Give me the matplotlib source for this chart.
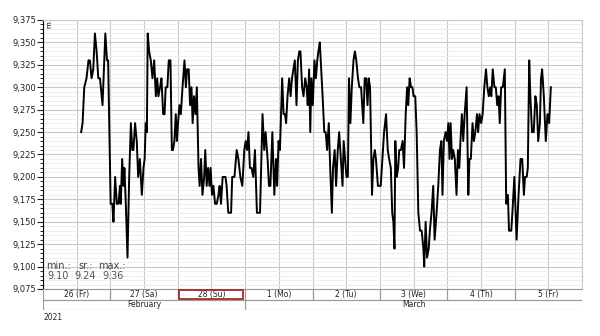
import numpy as np
import matplotlib as mpl
mpl.use('Agg')
from matplotlib import pyplot as plt
from matplotlib.patches import Rectangle
import matplotlib.ticker as ticker

# hours since 2021-02-26 00:00 and water level readings
hours = [13.6, 14.1, 14.7, 15.5, 16.2, 16.7, 17.3, 17.9, 18.5, 19.1, 19.7, 20.3, 21.2, 22.2, 22.8, 23.2,
         24.1, 24.7, 25.1, 25.7, 26.3, 26.9, 27.4, 27.7, 28.2, 28.7, 29.0, 29.5, 30.1, 30.7, 31.3, 31.8,
         32.2, 32.8, 33.4, 33.9, 34.5, 35.2, 35.8, 36.2, 36.6, 37.0, 37.3, 37.8, 38.4, 39.0, 39.6, 40.2,
         40.7, 41.1, 41.7, 42.2, 42.8, 43.3, 43.7, 44.3, 44.8, 45.4,
         45.9, 46.3, 46.8, 47.3, 47.7, 48.1, 48.6, 49.1, 49.7, 50.4, 50.9, 51.3, 51.9, 52.4, 52.9, 53.3,
         53.8, 54.3, 54.8, 55.4, 55.8, 56.3, 56.8, 57.4, 57.8, 58.3, 58.8, 59.3, 59.7, 60.2, 60.7, 61.3,
         61.9, 62.5, 62.9, 63.4, 64.0, 64.5, 65.0, 65.4, 66.0, 67.0, 67.4, 68.2, 69.0, 69.6, 70.3, 71.0,
         71.7, 72.2, 72.7, 73.2, 73.7, 74.3, 74.9, 75.5, 76.2, 77.3, 78.2, 78.8, 79.3, 80.0,
         80.5, 81.0, 81.7, 82.4, 83.0, 83.4, 83.9, 84.4, 85.2, 85.7, 86.2, 86.6, 87.1, 87.7, 88.2, 88.7,
         89.2, 89.7, 90.3, 90.8, 91.3, 91.7, 92.3, 92.8, 93.4, 93.9, 94.3, 94.8, 95.2, 95.6, 96.1, 96.7,
         97.2, 97.7, 98.1, 98.6, 99.1, 99.6, 100.2, 100.7, 101.2, 101.8, 102.3, 102.9, 103.3, 103.9, 104.4,
         105.0, 105.5, 106.1, 106.7, 107.1, 107.6, 108.1, 108.6, 109.0, 109.5, 110.0, 110.6, 111.1, 111.6,
         112.2, 112.7, 113.3, 114.1,
         114.6, 115.1, 115.6, 116.0, 116.5, 117.2, 117.7, 118.2, 118.6, 119.3, 120.3, 120.9, 121.5, 122.2,
         122.8, 123.3, 123.9, 124.4, 124.8, 125.2, 125.5, 126.0, 126.5, 126.9, 127.5, 128.1, 128.6, 129.2,
         129.7, 130.1, 130.6, 131.1, 131.6, 132.0, 132.6, 133.1, 133.7, 134.3, 134.9, 135.5, 135.8, 136.3,
         136.8, 137.4, 137.8, 138.4, 139.0, 139.5, 140.2, 140.8, 141.4, 141.9, 142.3, 142.8, 143.4, 143.9,
         144.4, 144.8, 145.2, 145.7, 146.1, 146.7, 147.3, 147.8, 148.3,
         148.7, 149.2, 149.7, 150.2, 150.9, 151.5, 151.9, 152.4, 153.0, 153.5, 154.0, 154.6, 155.0, 155.5,
         156.1, 156.6, 157.2, 157.8, 158.3, 158.8, 159.3, 159.7, 160.2, 160.8, 161.3, 161.8, 162.3, 162.7,
         163.2, 163.8, 164.5, 165.0, 165.6, 166.0, 166.8, 167.2, 167.9, 168.7, 169.4, 170.1, 170.7, 171.3,
         171.7, 172.3, 172.7, 173.2, 173.6, 174.2, 174.8, 175.4, 175.9, 176.4, 177.0, 177.4, 177.8, 178.4,
         179.1, 179.7, 180.3, 180.9]
level = [9.25, 9.26, 9.30, 9.31, 9.33, 9.33, 9.31, 9.32, 9.36, 9.34, 9.31, 9.31, 9.28, 9.36, 9.33, 9.33,
         9.17, 9.17, 9.15, 9.20, 9.17, 9.17, 9.19, 9.17, 9.22, 9.19, 9.21, 9.17, 9.11, 9.20, 9.26, 9.23,
         9.23, 9.26, 9.24, 9.20, 9.22, 9.18, 9.21, 9.22, 9.26, 9.25, 9.36, 9.34, 9.33, 9.31, 9.33, 9.29,
         9.31, 9.29, 9.30, 9.31, 9.27, 9.27, 9.30, 9.30, 9.33, 9.33,
         9.23, 9.23, 9.24, 9.27, 9.24, 9.26, 9.28, 9.27, 9.30, 9.33, 9.30, 9.32, 9.32, 9.28, 9.30, 9.26,
         9.29, 9.27, 9.30, 9.21, 9.19, 9.22, 9.18, 9.20, 9.23, 9.19, 9.21, 9.19, 9.21, 9.18, 9.19, 9.17,
         9.17, 9.18, 9.19, 9.17, 9.20, 9.20, 9.20, 9.19, 9.16, 9.16, 9.20, 9.20, 9.23, 9.22, 9.20, 9.19,
         9.23, 9.24, 9.23, 9.25, 9.21, 9.21, 9.20, 9.23, 9.16, 9.16, 9.27, 9.23, 9.25, 9.22,
         9.19, 9.19, 9.25, 9.18, 9.22, 9.19, 9.24, 9.23, 9.31, 9.27, 9.27, 9.26, 9.29, 9.31, 9.29, 9.31,
         9.32, 9.33, 9.28, 9.33, 9.34, 9.34, 9.30, 9.29, 9.31, 9.30, 9.28, 9.32, 9.25, 9.31, 9.28, 9.33,
         9.31, 9.33, 9.34, 9.35, 9.32, 9.29, 9.25, 9.25, 9.23, 9.26, 9.21, 9.16, 9.21, 9.23, 9.19,
         9.23, 9.25, 9.22, 9.19, 9.24, 9.22, 9.20, 9.20, 9.31, 9.26, 9.30, 9.33, 9.34, 9.33,
         9.31, 9.30, 9.30, 9.26,
         9.31, 9.31, 9.28, 9.31, 9.30, 9.18, 9.22, 9.23, 9.22, 9.19, 9.19, 9.22, 9.25, 9.27,
         9.23, 9.22, 9.21, 9.16, 9.15, 9.12, 9.24, 9.20, 9.21, 9.23, 9.23, 9.24, 9.21, 9.27,
         9.30, 9.28, 9.31, 9.30, 9.30, 9.29, 9.29, 9.25, 9.16, 9.14, 9.14, 9.12, 9.10, 9.15,
         9.11, 9.12, 9.14, 9.16, 9.19, 9.13, 9.16, 9.19, 9.23, 9.24, 9.18, 9.24, 9.25, 9.24,
         9.26, 9.22, 9.26, 9.22, 9.23, 9.22, 9.18, 9.23, 9.21,
         9.24, 9.27, 9.24, 9.27, 9.30, 9.18, 9.22, 9.22, 9.26, 9.24, 9.25, 9.27, 9.25, 9.27,
         9.26, 9.27, 9.30, 9.32, 9.30, 9.29, 9.30, 9.29, 9.32, 9.30, 9.30, 9.28, 9.29, 9.26,
         9.30, 9.30, 9.32, 9.17, 9.18, 9.14, 9.14, 9.16, 9.20, 9.13, 9.18, 9.22, 9.22, 9.18,
         9.20, 9.20, 9.21, 9.33, 9.29, 9.25, 9.25, 9.29, 9.28, 9.24, 9.26, 9.31, 9.32, 9.29,
         9.24, 9.27, 9.26, 9.30]

day_labels = ['26 (Fr)', '27 (Sa)', '28 (Su)', '1 (Mo)', '2 (Tu)', '3 (We)', '4 (Th)', '5 (Fr)']
months = ['February', 'March']
month_days = [3, 5]
stat_names = ['min.:', 'sr.:', 'max.:']
stat_values = ['9.10', '9.24', '9.36']

W, H = 600, 336
fig = plt.figure(figsize=(W / 100, H / 100), dpi=100)
left, right = 43 / W, 582 / W
ax = fig.add_axes([left, 1 - 289 / H, right - left, (289 - 20) / H])

ax.plot(hours, level, color='black', lw=1.4, zorder=3)

ax.set_xlim(0, 24 * len(day_labels))
ax.set_ylim(9.075, 9.375)
ax.yaxis.set_major_locator(ticker.MultipleLocator(0.025))
ax.yaxis.set_minor_locator(ticker.MultipleLocator(0.005))
ax.yaxis.set_major_formatter(ticker.FuncFormatter(lambda v, p: ('%.3f' % v).replace('.', ',')))
ax.xaxis.set_major_locator(ticker.MultipleLocator(12))
ax.grid(True, which='major', axis='both', color='#c8c8c8', lw=0.8)
ax.grid(True, which='minor', axis='y', color='#ececec', lw=0.6)
ax.set_axisbelow(True)
ax.tick_params(axis='y', which='major', length=4, width=0.8, labelsize=6, pad=1, colors='#222222')
ax.tick_params(axis='y', which='minor', length=2, width=0.6)
ax.tick_params(axis='x', length=0, labelbottom=False)
for s in ['top', 'right', 'bottom']:
    ax.spines[s].set_color('#c8c8c8')
ax.spines['left'].set_color('black')
ax.text(0.006, 0.995, 'm', transform=ax.transAxes, rotation=90, fontsize=5, va='top', ha='left')

# stats in lower left
name_x = [0.006, 0.065, 0.102]
val_x = [0.009, 0.058, 0.111]
for i in range(3):
    ax.text(name_x[i], 0.085, stat_names[i], transform=ax.transAxes, fontsize=7, color='#444444',
            ha='left', va='center')
    ax.text(val_x[i], 0.048, stat_values[i], transform=ax.transAxes, fontsize=7, color='#555555',
            ha='left', va='center')

# date table under the chart
tab = fig.add_axes([left, 1 - 310 / H, right - left, 21 / H])
tab.set_xlim(ax.get_xlim())
tab.set_ylim(0, 2)
tab.axis('off')
for i, lab in enumerate(day_labels):
    tab.add_patch(Rectangle((24 * i, 1), 24, 1, fill=False, edgecolor='#9a9a9a', lw=0.8))
    tab.text(24 * i + 12, 1.5, lab, ha='center', va='center', fontsize=5.5, color='#222222')
tab.add_patch(Rectangle((24 * 2 + 0.6, 1.08), 22.8, 0.84, fill=False, edgecolor='#a52a2a', lw=1.3, zorder=4))
start = 0
for m, n in zip(months, month_days):
    tab.add_patch(Rectangle((start, 0), 24 * n, 1, fill=False, edgecolor='#9a9a9a', lw=0.8))
    tab.text(start + 12 * n, 0.5, m, ha='center', va='center', fontsize=5.5, color='#222222')
    start += 24 * n

fig.text(left, 1 - 318 / H, '2021', fontsize=5.5, color='#222222', ha='left', va='center')

plt.savefig('out.png', dpi=100)
